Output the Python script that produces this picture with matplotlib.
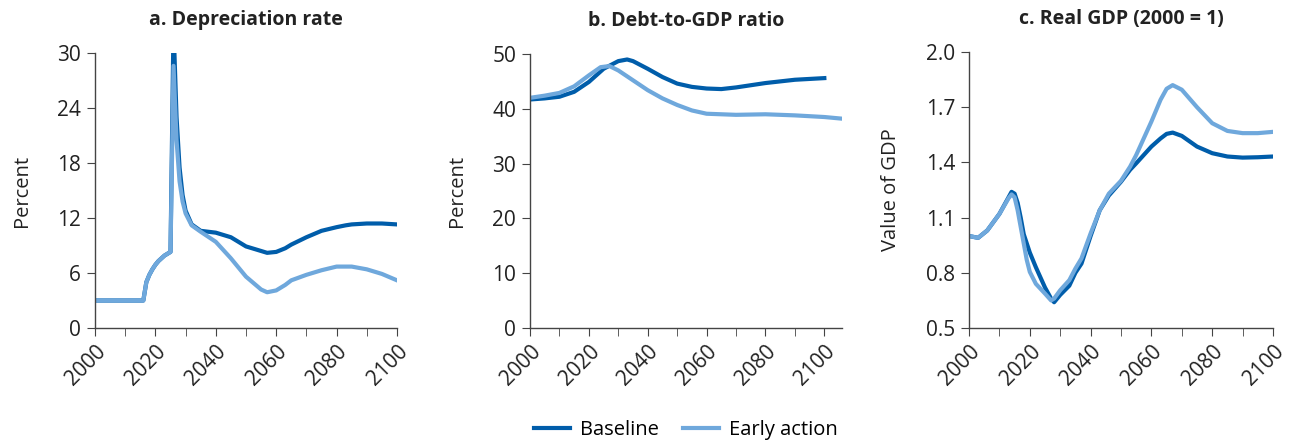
import matplotlib
matplotlib.use("Agg")
import matplotlib.pyplot as plt
from matplotlib.ticker import MultipleLocator, FormatStrFormatter

plt.rcParams['font.family'] = ['Open Sans', 'DejaVu Sans']
plt.rcParams['font.size'] = 14

BASE_COLOR = '#005DAA'
EARLY_COLOR = '#6FA8DC'

# a. Depreciation rate (percent)
dep_years = [2000, 2005, 2010, 2016, 2017, 2018, 2019, 2020, 2021, 2022, 2023, 2024, 2025,
             2026, 2027, 2028, 2029, 2030, 2032, 2035, 2040, 2045, 2050, 2055, 2057,
             2060, 2063, 2065, 2070, 2075, 2080, 2083, 2085, 2090, 2095, 2100]
dep_base = [3.0, 3.0, 3.0, 3.0, 5.0, 5.8, 6.4, 6.9, 7.3, 7.6, 7.9, 8.1, 8.3,
            33.0, 23.0, 17.5, 14.5, 12.8, 11.3, 10.6, 10.4, 9.9, 8.9, 8.4, 8.2,
            8.3, 8.7, 9.1, 9.9, 10.6, 11.0, 11.2, 11.3, 11.4, 11.4, 11.3]
dep_early = [3.0, 3.0, 3.0, 3.0, 5.0, 5.8, 6.4, 6.9, 7.3, 7.6, 7.9, 8.1, 8.3,
             28.6, 20.5, 16.0, 13.8, 12.5, 11.2, 10.5, 9.4, 7.6, 5.6, 4.2, 3.9,
             4.1, 4.7, 5.2, 5.8, 6.3, 6.7, 6.7, 6.7, 6.4, 5.9, 5.2]

# b. Debt-to-GDP ratio (percent)
debt_years_base = [2000, 2005, 2010, 2015, 2020, 2025, 2030, 2033, 2035, 2040, 2045, 2050,
                   2055, 2060, 2065, 2070, 2080, 2090, 2100]
debt_base = [41.7, 41.9, 42.2, 43.1, 44.9, 47.3, 48.7, 49.0, 48.7, 47.3, 45.8, 44.6,
             44.0, 43.7, 43.6, 43.9, 44.7, 45.3, 45.6]
debt_years_early = [2000, 2005, 2010, 2015, 2020, 2024, 2027, 2030, 2035, 2040, 2045, 2050,
                    2055, 2060, 2065, 2070, 2080, 2090, 2100, 2106]
debt_early = [42.0, 42.4, 42.9, 44.1, 46.1, 47.6, 47.8, 47.0, 45.2, 43.4, 41.9, 40.7,
              39.7, 39.1, 39.0, 38.9, 39.0, 38.8, 38.5, 38.2]

# c. Real GDP (2000 = 1)
gdp_years = [2000, 2003, 2006, 2010, 2013, 2014, 2015, 2016, 2017, 2018, 2019, 2020, 2022,
             2025, 2027, 2028, 2030, 2033, 2035, 2037, 2040, 2043, 2046, 2050, 2053,
             2055, 2060, 2063, 2065, 2067, 2070, 2075, 2080, 2085, 2090, 2095, 2100]
gdp_base = [1.00, 0.99, 1.03, 1.12, 1.21, 1.24, 1.23, 1.18, 1.10, 1.01, 0.96, 0.91, 0.83,
            0.72, 0.66, 0.64, 0.68, 0.73, 0.80, 0.85, 1.00, 1.14, 1.22, 1.295, 1.36,
            1.395, 1.486, 1.53, 1.555, 1.562, 1.544, 1.486, 1.45, 1.432, 1.426, 1.428, 1.432]
gdp_early = [1.00, 0.99, 1.03, 1.12, 1.205, 1.226, 1.21, 1.14, 1.05, 0.96, 0.87, 0.805, 0.74,
             0.687, 0.65, 0.66, 0.705, 0.76, 0.823, 0.878, 1.014, 1.14, 1.23, 1.30, 1.377,
             1.44, 1.622, 1.74, 1.80, 1.82, 1.795, 1.70, 1.613, 1.571, 1.559, 1.559, 1.566]

year_ticks = [2000, 2020, 2040, 2060, 2080, 2100]
dep_ticks = [0, 6, 12, 18, 24, 30]
debt_ticks = [0, 10, 20, 30, 40, 50]
gdp_ticks = [0.5, 0.8, 1.1, 1.4, 1.7, 2.0]

fig = plt.figure(figsize=(12.99, 4.45), dpi=100)
W, H = 1299, 445


def add_axes(left, right, top, bottom):
    return fig.add_axes([left / W, 1 - bottom / H, (right - left) / W, (bottom - top) / H])


def style(ax, title, ylabel, ylim, yticks, xmax):
    ax.set_title(title, fontsize=14, fontweight='bold', pad=20, color='#222222')
    ax.set_ylabel(ylabel, fontsize=14.5, color='#222222', labelpad=18)
    ax.set_ylim(*ylim)
    ax.set_xlim(2000, xmax)
    ax.set_yticks(yticks)
    ax.set_xticks(year_ticks)
    ax.xaxis.set_minor_locator(MultipleLocator(10))
    for s in ['top', 'right']:
        ax.spines[s].set_visible(False)
    for s in ['left', 'bottom']:
        ax.spines[s].set_color('#444444')
        ax.spines[s].set_linewidth(1.0)
    ax.tick_params(axis='both', which='both', direction='out', color='#444444',
                   labelsize=15, labelcolor='#222222')
    ax.tick_params(axis='x', which='both', length=6)
    ax.tick_params(axis='y', length=6, pad=4)
    for lbl in ax.get_xticklabels():
        lbl.set_rotation(45)
        lbl.set_ha('right')
        lbl.set_rotation_mode('anchor')


ax1 = add_axes(95, 397, 53, 328)
ax1.plot(dep_years, dep_base, color=BASE_COLOR, lw=3, solid_joinstyle='round')
ax1.plot(dep_years, dep_early, color=EARLY_COLOR, lw=3, solid_joinstyle='round')
style(ax1, 'a. Depreciation rate', 'Percent', (0, 30), dep_ticks, 2100)

ax2 = add_axes(530, 842, 54, 328)
ax2.plot(debt_years_base, debt_base, color=BASE_COLOR, lw=3, label='Baseline')
ax2.plot(debt_years_early, debt_early, color=EARLY_COLOR, lw=3, label='Early action')
style(ax2, 'b. Debt-to-GDP ratio', 'Percent', (0, 50), debt_ticks, 2106)
ax2.set_xticks(range(2000, 2101, 10), minor=True)

ax3 = add_axes(969, 1273, 52, 328)
ax3.plot(gdp_years, gdp_base, color=BASE_COLOR, lw=3)
ax3.plot(gdp_years, gdp_early, color=EARLY_COLOR, lw=3)
style(ax3, 'c. Real GDP (2000 = 1)', 'Value of GDP', (0.5, 2.0), gdp_ticks, 2100)
ax3.yaxis.set_major_formatter(FormatStrFormatter('%.1f'))

fig.legend(loc='center', bbox_to_anchor=(686 / W, 1 - 430 / H), ncol=2, frameon=False,
           fontsize=14.5, handlelength=1.8, columnspacing=1.2, handletextpad=0.5)

fig.savefig('out.png', dpi=100)
